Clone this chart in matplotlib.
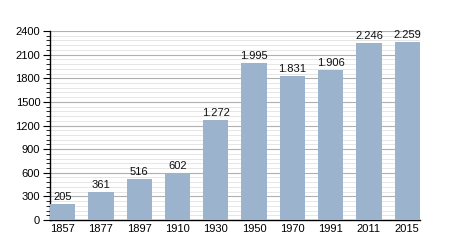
import matplotlib
matplotlib.use('Agg')
import matplotlib.pyplot as plt
from matplotlib.ticker import MultipleLocator

years = ['1857', '1877', '1897', '1910', '1930', '1950', '1970', '1991', '2011', '2015']
population = [205, 361, 516, 602, 1272, 1995, 1831, 1906, 2246, 2259]
labels = ['205', '361', '516', '602', '1.272', '1.995', '1.831', '1.906', '2.246', '2.259']

plt.rcParams['font.family'] = ['Liberation Sans', 'DejaVu Sans']

fig = plt.figure(figsize=(4.5, 2.5), dpi=100)
ax = fig.add_axes([0.111, 0.12, 0.822, 0.756])

w = 0.66
x = range(len(years))
ax.bar(x, population, width=w, color='#9bb3cd', zorder=3)

for i, (v, t) in enumerate(zip(population, labels)):
    ax.text(i, v + 25, t, ha='center', va='bottom', fontsize=8, color='#111111', zorder=4)

ax.set_xlim(-w / 2, len(years) - 1 + w / 2)
ax.set_ylim(0, 2400)
ax.yaxis.set_major_locator(MultipleLocator(300))
ax.yaxis.set_minor_locator(MultipleLocator(60))
ax.grid(True, which='major', axis='y', color='#b0b0b0', linewidth=0.8, zorder=1)
ax.grid(True, which='minor', axis='y', color='#e2e2e2', linewidth=0.6, zorder=0)

ax.set_xticks(list(x))
ax.set_xticklabels(years, fontsize=8)
ax.tick_params(axis='x', length=0, pad=3)
ax.tick_params(axis='y', which='major', length=5, width=0.8, labelsize=8, direction='out', pad=2)
ax.tick_params(axis='y', which='minor', length=3, width=0.6, direction='out')

for s in ['top', 'right']:
    ax.spines[s].set_visible(False)
ax.spines['left'].set_linewidth(1.0)
ax.spines['bottom'].set_linewidth(1.0)

fig.savefig('out.png', dpi=100, facecolor='white')
